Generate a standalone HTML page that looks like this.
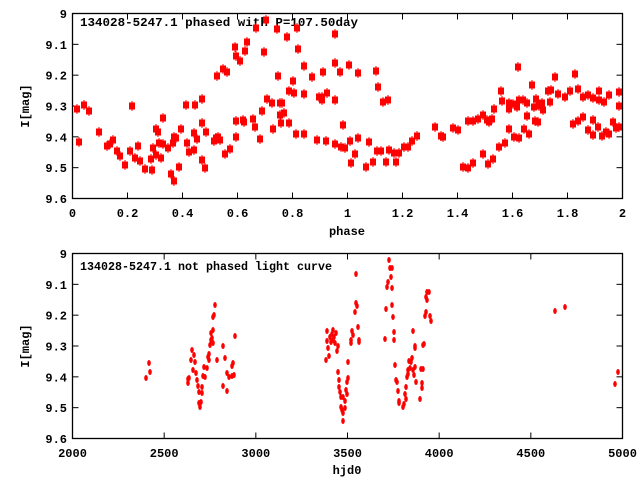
<!DOCTYPE html>
<html><head><meta charset="utf-8"><style>
html,body{margin:0;padding:0;background:#fff;width:640px;height:480px;overflow:hidden}
text{font-family:"Liberation Mono",monospace;font-weight:bold;font-size:12px;fill:#000}
</style></head><body>
<svg id="s" width="640" height="480" xmlns="http://www.w3.org/2000/svg">
<g id="ax" stroke="#000" stroke-width="1.3" fill="none">
<rect x="72.5" y="13.5" width="550" height="185"/>
<rect x="72.5" y="253.5" width="550" height="185"/>
</g>
<g id="tk" stroke="#000" stroke-width="1"></g>
<g id="lb"></g>
<text x="80" y="26" textLength="278" lengthAdjust="spacingAndGlyphs">134028-5247.1 phased with P=107.50day</text>
<text x="80" y="270" textLength="252" lengthAdjust="spacingAndGlyphs">134028-5247.1 not phased light curve</text>
<text x="347" y="235" text-anchor="middle">phase</text>
<text x="347" y="474" text-anchor="middle">hjd0</text>
<text transform="translate(29,106) rotate(-90)" text-anchor="middle">I[mag]</text>
<text transform="translate(29,346) rotate(-90)" text-anchor="middle">I[mag]</text>
<g id="p1" fill="#f00" stroke="#f00"></g>
<g id="p2" fill="#f00"></g>
</svg>
<script>
var NS="http://www.w3.org/2000/svg";
function el(p,t,a,txt){var e=document.createElementNS(NS,t);for(var k in a)e.setAttribute(k,a[k]);if(txt!=null)e.textContent=txt;document.getElementById(p).appendChild(e);return e;}
var yl=["9","9.1","9.2","9.3","9.4","9.5","9.6"];
[13.5,253.5].forEach(function(top){
 for(var i=0;i<7;i++){var y=top+i*185/6;
  if(i>0&&i<6){el("tk","line",{x1:72.5,y1:y,x2:78.5,y2:y});el("tk","line",{x1:622.5,y1:y,x2:616.5,y2:y});}
  el("lb","text",{x:67,y:y+4.5,"text-anchor":"end"},yl[i]);}
});
var xl1=["0","0.2","0.4","0.6","0.8","1","1.2","1.4","1.6","1.8","2"];
for(var i=0;i<=10;i++){var x=72.5+i*55;
 if(i>0&&i<10){el("tk","line",{x1:x,y1:198.5,x2:x,y2:192.5});el("tk","line",{x1:x,y1:13.5,x2:x,y2:19.5});}
 el("lb","text",{x:x,y:217,"text-anchor":"middle"},xl1[i]);}
var xl2=["2000","2500","3000","3500","4000","4500","5000"];
for(var i=0;i<=6;i++){var x=72.5+i*550/6;
 if(i>0&&i<6){el("tk","line",{x1:x,y1:438.5,x2:x,y2:432.5});el("tk","line",{x1:x,y1:253.5,x2:x,y2:259.5});}
 el("lb","text",{x:x,y:457,"text-anchor":"middle"},xl2[i]);}
var P1=[77,109,79,142,84,105,89,111,99,132,107,146,110,144,113,140,117,151,120,156,125,165,130,151,132,106,135,158,138,146,140,161,145,169,151,159,152,170,153,148,156,129,158,132,156,155,159,143,161,158,163,144,163,118,168,148,171,174,173,143,174,137,174,181,176,138,179,167,181,129,186,105,187,143,189,152,194,150,194,133,195,105,197,139,202,123,202,160,202,99,205,168,206,132,214,141,216,138,218,137,220,140,217,76,223,69,225,154,227,72,230,149,235,47,236,56,236,121,236,137,240,61,245,51,247,42,243,120,244,122,253,119,255,127,256,28,260,139,262,111,264,52,266,20,267,99,272,103,273,129,277,29,278,76,280,103,280,115,281,123,282,103,284,113,287,37,289,91,289,123,293,81,294,93,296,134,297,28,298,49,304,66,304,94,304,134,312,77,317,140,319,97,
322,97,322,100,323,72,326,141,327,93,335,34,335,63,335,100,335,144,340,72,341,147,343,125,345,148,349,65,350,141,351,163,355,154,358,73,358,138,366,167,369,142,373,162,376,71,377,151,378,87,381,151,383,102,386,162,388,100,389,150,394,153,396,162,399,153,404,147,408,147,412,141,417,136,435,127,441,136,443,137,453,128,458,130,463,167,468,121,468,168,473,121,473,163,478,119,483,115,483,154,487,120,488,164,489,122,492,119,493,159,494,109,499,147,501,91,502,101,505,143,509,103,509,109,509,129,513,104,514,137,517,107,518,67,519,100,519,138,523,100,524,129,527,103,527,116,529,134,532,85,534,107,535,121,536,99,538,122,539,106,542,103,543,110,548,91,550,102,551,90,555,77,558,94,565,97,570,91,573,124,575,74,578,89,578,121,583,97,583,117,588,95,588,130,593,98,593,120,593,135,599,91,599,100,598,127,602,136,604,102,606,132,609,95,609,134,613,122,616,128,619,92,619,106,619,127];
for(var i=0;i<P1.length;i+=2){var x=P1[i],y=P1[i+1];
 el("p1","rect",{x:x-3,y:y-3.5,width:6,height:7,"stroke-width":0});
 el("p1","line",{x1:x,y1:y-5,x2:x,y2:y+5,"stroke-width":1});}
var P2=[146,378,149,363,150,372,188,379,188,383,189,378,191,360,192,350,193,370,194,355,195,362,196,373,197,380,198,386,199,392,199,403,200,407,201,402,202,393,202,387,203,376,204,367,205,377,207,368,208,357,209,360,209,354,210,345,211,340,211,333,212,338,213,343,213,330,213,317,214,315,215,305,217,360,223,346,223,386,225,358,227,373,227,391,229,377,232,376,232,366,233,363,234,375,235,336,
326,360,327,341,327,331,328,348,329,356,330,337,331,342,332,334,333,330,333,340,334,337,335,343,336,333,337,351,338,346,338,372,339,380,339,387,340,392,341,397,341,407,342,410,343,397,343,413,343,421,345,408,345,401,346,390,347,382,347,394,348,378,348,362,351,340,351,343,352,331,353,335,355,312,356,303,356,274,357,306,358,327,359,342,359,340,385,339,386,309,387,287,388,282,389,260,390,268,391,277,392,268,392,288,392,305,393,317,394,340,394,332,395,365,396,380,397,382,398,391,399,401,399,403,403,407,404,404,405,394,406,399,406,387,407,377,408,370,408,374,409,361,410,368,411,362,412,358,413,370,413,331,414,375,415,367,415,348,415,346,416,382,420,399,421,369,422,383,422,388,423,369,423,345,424,344,425,316,426,312,426,297,427,300,427,292,429,292,430,316,431,321,555,311,565,307,615,384,618,372];
for(var i=0;i<P2.length;i+=2){el("p2","ellipse",{cx:P2[i],cy:P2[i+1],rx:1.8,ry:3});}
</script>
</body></html>
